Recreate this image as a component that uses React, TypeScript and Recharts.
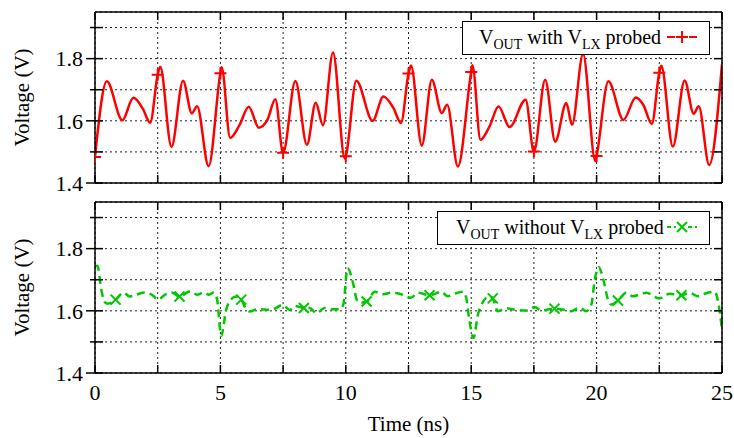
import { CartesianGrid, ComposedChart, Legend, Line, XAxis, YAxis } from "recharts";

// time (ns) / voltage (V)
const topTime = [
  0, 0.47, 1.09, 1.53, 1.9, 2.2, 2.5, 2.6, 3.05, 3.51, 3.86, 4.07, 4.53, 5.0, 5.05,
  5.39, 5.76, 6.13, 6.53, 6.87, 7.19, 7.5, 7.99, 8.45, 8.8, 9.09, 9.49, 9.96, 10.0,
  10.42, 11.07, 11.5, 11.9, 12.2, 12.5, 12.6, 13.03, 13.43, 13.83, 14.04, 14.47, 15.0, 15.05,
  15.37, 15.73, 16.09, 16.53, 17.17, 17.5, 17.95, 18.35, 18.79, 19.02, 19.46, 19.95, 20.0,
  20.47, 21.07, 21.56, 21.87, 22.2, 22.5, 22.58, 23.04, 23.51, 23.87, 24.07, 24.49, 25.0,
];
const topVolt = [
  1.484, 1.727, 1.602, 1.674, 1.64, 1.594, 1.748, 1.774, 1.516, 1.729, 1.624, 1.647, 1.454, 1.753, 1.772,
  1.545, 1.586, 1.645, 1.578, 1.602, 1.669, 1.497, 1.728, 1.523, 1.658, 1.586, 1.82, 1.479, 1.486,
  1.729, 1.6, 1.678, 1.641, 1.593, 1.752, 1.778, 1.52, 1.732, 1.625, 1.652, 1.453, 1.757, 1.779,
  1.539, 1.582, 1.646, 1.58, 1.668, 1.501, 1.732, 1.533, 1.657, 1.587, 1.815, 1.47, 1.487,
  1.727, 1.603, 1.675, 1.65, 1.59, 1.755, 1.777, 1.517, 1.73, 1.623, 1.647, 1.458, 1.782,
];
const topMarkTime = [0, 2.5, 5, 7.5, 10, 12.5, 15, 17.5, 20, 22.5];
const topMarkVolt = [1.484, 1.748, 1.753, 1.497, 1.486, 1.752, 1.757, 1.501, 1.487, 1.755];

const botTime = [
  0, 0.1, 0.25, 0.4, 0.5, 0.82, 1.14, 1.38, 1.65, 1.99, 2.26, 2.52, 2.79, 3.06, 3.37, 3.8, 4.07,
  4.34, 4.54, 4.74, 4.87, 5.03, 5.23, 5.36, 5.63, 5.83, 6.03, 6.16, 6.49, 7.03, 7.49, 7.76, 7.96,
  8.33, 8.56, 8.83, 9.16, 9.49, 9.76, 9.9, 10.07, 10.3, 10.43, 10.56, 10.83, 11.16, 11.49, 11.8,
  12.15, 12.6, 12.87, 13.34, 13.8, 14.07, 14.34, 14.67, 14.8, 14.93, 15.09, 15.27, 15.47, 15.73,
  15.86, 16.06, 16.4, 16.8, 17.19, 17.53, 17.79, 18.32, 18.66, 18.99, 19.32, 19.59, 19.79, 19.92,
  20.08, 20.28, 20.45, 20.59, 20.85, 21.18, 21.44, 21.98, 22.5, 22.91, 23.38, 23.71, 24.04, 24.31,
  24.71, 24.84, 25.0,
];
const botVolt = [
  1.744, 1.745, 1.668, 1.627, 1.623, 1.636, 1.659, 1.646, 1.652, 1.659, 1.652, 1.636, 1.652, 1.659, 1.646, 1.663, 1.652,
  1.659, 1.652, 1.659, 1.636, 1.519, 1.603, 1.63, 1.646, 1.636, 1.605, 1.598, 1.605, 1.603, 1.619, 1.603, 1.616,
  1.609, 1.609, 1.592, 1.609, 1.605, 1.605, 1.62, 1.737, 1.685, 1.637, 1.626, 1.63, 1.661, 1.653, 1.658,
  1.655, 1.642, 1.658, 1.65, 1.661, 1.647, 1.655, 1.661, 1.642, 1.567, 1.513, 1.588, 1.629, 1.647,
  1.64, 1.599, 1.608, 1.603, 1.601, 1.612, 1.601, 1.607, 1.604, 1.599, 1.61, 1.599, 1.62, 1.696,
  1.741, 1.696, 1.637, 1.62, 1.633, 1.658, 1.647, 1.658, 1.64, 1.655, 1.65, 1.658, 1.647, 1.655,
  1.661, 1.631, 1.54,
];
const botMarkTime = [0.82, 3.37, 5.83, 8.33, 10.83, 13.34, 15.86, 18.32, 20.85, 23.38];
const botMarkVolt = [1.636, 1.646, 1.636, 1.609, 1.63, 1.65, 1.64, 1.607, 1.633, 1.65];

const xTicks = [0, 2.5, 5, 7.5, 10, 12.5, 15, 17.5, 20, 22.5, 25];
const xLabels = [0, 5, 10, 15, 20, 25];
const yTicks = [1.4, 1.5, 1.6, 1.7, 1.8, 1.9];
const yLabels = [1.4, 1.6, 1.8];

const RED = "#ff0000";
const GREEN = "#00c800";
const FONT = '"Liberation Serif", "Times New Roman", serif';
const AXIS_FS = 22;
const TITLE_FS = 21;

const rows = (ts: number[], vs: number[]) => ts.map((t, i) => ({ t, v: vs[i] }));

function Plus(p: any) {
  const { cx, cy } = p;
  if (cx == null || cy == null) return null;
  return <path d={`M${cx - 6},${cy}H${cx + 6}M${cx},${cy - 6}V${cy + 6}`} stroke={RED} strokeWidth={2} fill="none" />;
}

function Cross(p: any) {
  const { cx, cy } = p;
  if (cx == null || cy == null) return null;
  return (
    <path
      d={`M${cx - 5},${cy - 5}L${cx + 5},${cy + 5}M${cx - 5},${cy + 5}L${cx + 5},${cy - 5}`}
      stroke={GREEN}
      strokeWidth={2}
      fill="none"
    />
  );
}

function YTick(p: any) {
  const { x, y, payload, side } = p;
  if (side === "r") return <line x1={x - 8} x2={x} y1={y} y2={y} stroke="#000" strokeWidth={1.5} />;
  const major = yLabels.includes(payload.value);
  return (
    <g>
      <line x1={x - (major ? 9 : 5)} x2={x + 8} y1={y} y2={y} stroke="#000" strokeWidth={1.5} />
      {major && (
        <text x={x - 12} y={y} dy="0.35em" textAnchor="end" fontFamily={FONT} fontSize={AXIS_FS} fill="#000">
          {payload.value.toFixed(1)}
        </text>
      )}
    </g>
  );
}

function XTick(p: any) {
  const { x, y, payload, side, labels } = p;
  const dir = side === "top" ? 1 : -1;
  return (
    <g>
      <line x1={x} x2={x} y1={y} y2={y + dir * 8} stroke="#000" strokeWidth={1.5} />
      {labels && xLabels.includes(payload.value) && (
        <text x={x} y={y + 19} dy="0.35em" textAnchor="middle" fontFamily={FONT} fontSize={AXIS_FS} fill="#000">
          {payload.value}
        </text>
      )}
    </g>
  );
}

function LegendBox({ left, width, padL, color, mid, Mark, dashed }: any) {
  const sub = { fontSize: 14, position: "relative" as const, top: 5 };
  return (
    <div
      style={{
        position: "relative",
        boxSizing: "border-box",
        width,
        height: 34,
        border: "1.5px solid #000",
        background: "#fff",
        fontFamily: FONT,
        fontSize: 20,
        color: "#000",
      }}
    >
      <div style={{ position: "absolute", left: padL, top: 3, whiteSpace: "nowrap", lineHeight: "24px" }}>
        V<span style={sub}>OUT</span> {mid} V<span style={sub}>LX</span> probed
      </div>
      <svg style={{ position: "absolute", left: 667 - left - 1.5, top: 0 }} width={32} height={31}>
        {dashed ? (
          <line x1={0} x2={30} y1={15} y2={15} stroke={color} strokeWidth={2} strokeDasharray="4 3" />
        ) : (
          <path d="M0,15H8M22,15H30" stroke={color} strokeWidth={2} />
        )}
        <rect x={9} y={9} width={12} height={12} fill="#fff" />
        <Mark cx={15} cy={15} />
      </svg>
    </div>
  );
}

function Panel(props: any) {
  const { top, height, bottomH, curve, marks, color, dash, Mark, showX, legend } = props;
  return (
    <div style={{ position: "absolute", left: 0, top }}>
      <ComposedChart width={734} height={height} margin={{ top: 0, right: 0, bottom: 0, left: 0 }}>
        <CartesianGrid stroke="#222" strokeDasharray="2 3" strokeWidth={1} />
        <XAxis
          dataKey="t"
          type="number"
          domain={[0, 25]}
          ticks={xTicks}
          allowDataOverflow
          height={bottomH}
          stroke="#000"
          strokeWidth={1.5}
          tickLine={false}
          tickSize={0}
          tickMargin={0}
          interval={0}
          tick={(p: any) => <XTick {...p} side="bottom" labels={showX} />}
          label={
            showX
              ? (lp: any) => {
                  const vb = lp.viewBox || {};
                  return (
                    <text
                      x={vb.x + vb.width / 2}
                      y={vb.y + 51}
                      dy="0.35em"
                      textAnchor="middle"
                      fontFamily={FONT}
                      fontSize={TITLE_FS}
                      fill="#000"
                    >
                      Time (ns)
                    </text>
                  );
                }
              : undefined
          }
        />
        <XAxis
          xAxisId="top"
          orientation="top"
          dataKey="t"
          type="number"
          domain={[0, 25]}
          ticks={xTicks}
          allowDataOverflow
          height={12}
          stroke="#000"
          strokeWidth={1.5}
          tickLine={false}
          tickSize={0}
          tickMargin={0}
          interval={0}
          tick={(p: any) => <XTick {...p} side="top" labels={false} />}
        />
        <YAxis
          type="number"
          domain={[1.4, 1.95]}
          ticks={yTicks}
          allowDataOverflow
          width={95}
          stroke="#000"
          strokeWidth={1.5}
          tickLine={false}
          tickSize={0}
          tickMargin={0}
          interval={0}
          tick={(p: any) => <YTick {...p} side="l" />}
          label={(lp: any) => {
            const vb = lp.viewBox || {};
            const cx = vb.x + 22;
            const cy = vb.y + vb.height / 2;
            return (
              <text
                x={cx}
                y={cy}
                dy="0.35em"
                transform={`rotate(-90 ${cx} ${cy})`}
                textAnchor="middle"
                fontFamily={FONT}
                fontSize={TITLE_FS}
                fill="#000"
              >
                Voltage (V)
              </text>
            );
          }}
        />
        <YAxis
          yAxisId="r"
          orientation="right"
          type="number"
          domain={[1.4, 1.95]}
          ticks={yTicks}
          allowDataOverflow
          width={12}
          stroke="#000"
          strokeWidth={1.5}
          tickLine={false}
          tickSize={0}
          tickMargin={0}
          interval={0}
          tick={(p: any) => <YTick {...p} side="r" />}
        />
        <Line
          data={curve}
          dataKey="v"
          type="monotone"
          stroke={color}
          strokeWidth={2.5}
          strokeDasharray={dash}
          dot={false}
          activeDot={false}
          isAnimationActive={false}
        />
        <Line
          data={marks}
          dataKey="v"
          xAxisId="top"
          yAxisId="r"
          stroke="none"
          dot={(p: any) => <Mark key={p.index} {...p} />}
          activeDot={false}
          isAnimationActive={false}
        />
        <Legend
          layout="horizontal"
          verticalAlign="middle"
          align="center"
          wrapperStyle={{ left: legend.left, top: legend.top, width: legend.width, height: 34 }}
          content={() => <LegendBox {...legend} color={color} Mark={Mark} dashed={!!dash} />}
        />
      </ComposedChart>
    </div>
  );
}

export default function App() {
  return (
    <div style={{ position: "absolute", left: 0, top: 0, width: 734, height: 438, background: "#fff" }}>
      <Panel
        top={0}
        height={195}
        bottomH={12}
        curve={rows(topTime, topVolt)}
        marks={rows(topMarkTime, topMarkVolt)}
        color={RED}
        Mark={Plus}
        showX={false}
        legend={{ left: 462, top: 21, width: 248, padL: 16, mid: "with" }}
      />
      <Panel
        top={190}
        height={248}
        bottomH={65}
        curve={rows(botTime, botVolt)}
        marks={rows(botMarkTime, botMarkVolt)}
        color={GREEN}
        dash="8 5"
        Mark={Cross}
        showX
        legend={{ left: 437, top: 21, width: 273, padL: 18, mid: "without" }}
      />
    </div>
  );
}
